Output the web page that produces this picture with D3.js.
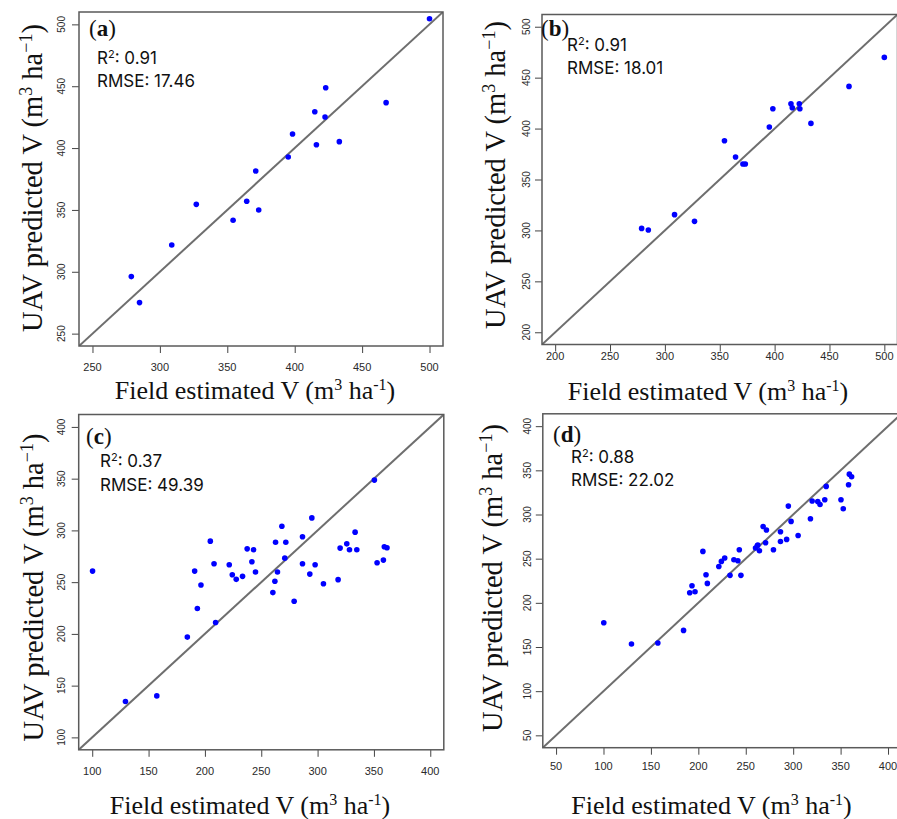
<!DOCTYPE html>
<html>
<head>
<meta charset="utf-8">
<script src="https://cdn.jsdelivr.net/npm/d3@7/dist/d3.min.js"></script>
<style>
  html, body { margin: 0; padding: 0; background: #fff; overflow: hidden; }
  svg { display: block; }
</style>
</head>
<body>
<svg id="fig" width="897" height="819"></svg>
<script>
// Field-measured stand volume (x) for the plots used in panels (a) and (b)
const fieldAB = [278.8, 284.9, 308.8, 327.0, 354.3, 364.4, 371.1, 373.3, 395.2,
                 398.4, 414.9, 416.1, 422.5, 423.0, 433.1, 467.8, 500.0];
// UAV-predicted volume, panel (a)
const predA = [296.1, 275.1, 321.7, 354.5, 341.6, 357.0, 381.5, 350.0, 392.8,
               411.4, 429.4, 402.7, 425.1, 448.8, 405.2, 436.7, 504.6];
// UAV-predicted volume, panel (b)
const predB = [302.0, 300.4, 315.5, 308.9, 388.1, 372.1, 365.2, 365.2, 401.5,
               419.5, 424.4, 420.5, 424.4, 419.5, 405.1, 441.4, 469.9];

// Field-measured stand volume (x) for panels (c) and (d)
const fieldCD = [100.3, 129.5, 157.3, 184.4, 190.9, 193.3, 196.5, 204.8, 208.1, 209.5,
                 221.6, 224.3, 227.8, 233.4, 237.5, 241.7, 243.2, 244.9, 260.3, 262.1,
                 262.7, 264.4, 268.3, 270.9, 271.8, 279.2, 286.6, 286.6, 293.1, 294.9,
                 297.8, 305.2, 318.2, 320.0, 325.9, 328.3, 333.3, 334.8, 350.4, 352.8,
                 358.4, 359.2, 361.6];
// UAV-predicted volume, panel (c)
const predC = [260.7, 134.6, 140.1, 196.9, 260.7, 224.5, 247.3, 289.6, 267.8, 211.0,
               266.8, 257.2, 252.7, 255.6, 282.2, 269.7, 281.3, 259.8, 239.9, 250.8,
               288.6, 259.8, 304.0, 273.2, 288.6, 231.5, 293.8, 267.8, 257.8, 312.1,
               266.8, 248.5, 252.4, 282.9, 287.0, 281.3, 298.3, 281.3, 348.6, 268.8,
               271.3, 284.2, 283.2];
// UAV-predicted volume, panel (d)
const predD = [177.5, 153.4, 154.5, 168.8, 211.4, 219.4, 212.6, 258.2, 231.8, 222.0,
               241.2, 246.9, 250.7, 231.1, 248.8, 247.7, 260.1, 231.1, 262.0, 264.6,
               265.4, 258.9, 286.5, 268.0, 282.4, 260.1, 280.5, 269.5, 271.8, 309.5,
               292.2, 276.3, 295.2, 315.2, 314.8, 311.4, 316.7, 331.8, 316.7, 306.5,
               333.7, 345.7, 342.7];

// Axis tick values
const ticksA = [250, 300, 350, 400, 450, 500];
const ticksB = [200, 250, 300, 350, 400, 450, 500];
const ticksC = [100, 150, 200, 250, 300, 350, 400];
const ticksD = [50, 100, 150, 200, 250, 300, 350, 400];

// Panel tags and fit statistics
const tags = ["a", "b", "c", "d"];
const r2Values = ["0.91", "0.91", "0.37", "0.88"];
const rmseValues = ["17.46", "18.01", "49.39", "22.02"];

const svg = d3.select("#fig");

// Layout of each panel on the page
const panels = [
  { x: fieldAB, y: predA, ticks: ticksA, lo: 250, hi: 500,
    box: [79, 12, 443, 346], ytlX: 65, xtlY: 371, ytitleX: 42, ytitleY: 178,
    xtitleX: 255, xtitleY: 399, tag: [89, 35.5], stat: [97, 63.5, 86.5] },
  { x: fieldAB, y: predB, ticks: ticksB, lo: 200, hi: 500,
    box: [542, 14.5, 897.5, 344.5], ytlX: 530, xtlY: 359.5, ytitleX: 505, ytitleY: 175,
    xtitleX: 708, xtitleY: 400, tag: [541, 36], stat: [567, 50.5, 74] },
  { x: fieldCD, y: predC, ticks: ticksC, lo: 100, hi: 400,
    box: [78.7, 414.5, 443.8, 749.8], ytlX: 65, xtlY: 775, ytitleX: 43, ytitleY: 587.5,
    xtitleX: 250, xtitleY: 814, tag: [86, 443.5], stat: [100, 467.3, 490.7] },
  { x: fieldCD, y: predD, ticks: ticksD, lo: 50, hi: 400,
    box: [542.8, 413.8, 901.3, 747.7], ytlX: 531, xtlY: 770, ytitleX: 502, ytitleY: 578,
    xtitleX: 711.5, xtitleY: 814, tag: [553, 441.5], stat: [571, 462.7, 486] }
];

panels.forEach((p, i) => {
  const [x0, y0, x1, y1] = p.box;
  const pad = (p.hi - p.lo) * 0.04;           // 4% axis padding on both ends
  const dom = [p.lo - pad, p.hi + pad];
  const xs = d3.scaleLinear().domain(dom).range([x0, x1]);
  const ys = d3.scaleLinear().domain(dom).range([y1, y0]);

  const g = svg.append("g");

  // clip for marks inside the plot region
  const clipId = "clip" + i;
  g.append("clipPath").attr("id", clipId)
    .append("rect").attr("x", x0).attr("y", y0)
    .attr("width", x1 - x0).attr("height", y1 - y0);

  // x axis ticks and labels
  const xAxis = d3.axisBottom(xs).tickValues(p.ticks).tickSize(7).tickSizeOuter(0);
  const xg = g.append("g").attr("transform", `translate(0,${y1})`).call(xAxis);
  xg.select(".domain").remove();
  xg.selectAll(".tick line").attr("stroke", "#444").attr("stroke-width", 1);
  xg.selectAll(".tick text").remove();
  g.selectAll(".xtl").data(p.ticks).enter().append("text")
    .attr("x", d => xs(d)).attr("y", p.xtlY)
    .attr("text-anchor", "middle")
    .attr("font-family", "Liberation Sans, Arial, sans-serif")
    .attr("font-size", 11).attr("fill", "#2a2a2a")
    .text(d => d);

  // y axis ticks and rotated labels
  const yAxis = d3.axisLeft(ys).tickValues(p.ticks).tickSize(7).tickSizeOuter(0);
  const yg = g.append("g").attr("transform", `translate(${x0},0)`).call(yAxis);
  yg.select(".domain").remove();
  yg.selectAll(".tick line").attr("stroke", "#444").attr("stroke-width", 1);
  yg.selectAll(".tick text").remove();
  g.selectAll(".ytl").data(p.ticks).enter().append("text")
    .attr("transform", d => `translate(${p.ytlX},${ys(d)}) rotate(-90)`)
    .attr("text-anchor", "middle")
    .attr("font-family", "Liberation Sans, Arial, sans-serif")
    .attr("font-size", 10).attr("fill", "#2a2a2a")
    .text(d => d);

  // 1:1 reference line
  g.append("line")
    .attr("clip-path", `url(#${clipId})`)
    .attr("x1", xs(dom[0])).attr("y1", ys(dom[0]))
    .attr("x2", xs(dom[1])).attr("y2", ys(dom[1]))
    .attr("stroke", "#6e6e6e").attr("stroke-width", 2);

  // points
  const pts = p.x.map((v, k) => [v, p.y[k]]);
  g.append("g").attr("clip-path", `url(#${clipId})`)
    .selectAll("circle").data(pts).enter().append("circle")
    .attr("cx", d => xs(d[0])).attr("cy", d => ys(d[1]))
    .attr("r", 2.8).attr("fill", "#0000ff");

  // plot frame
  g.append("rect")
    .attr("x", x0).attr("y", y0).attr("width", x1 - x0).attr("height", y1 - y0)
    .attr("fill", "none").attr("stroke", "#5a5a5a").attr("stroke-width", 1.5);

  // panel tag, e.g. (a)
  const tag = g.append("text")
    .attr("x", p.tag[0]).attr("y", p.tag[1])
    .attr("font-family", "Liberation Serif, Times New Roman, serif")
    .attr("font-size", 23).attr("fill", "#111");
  tag.append("tspan").text("(");
  tag.append("tspan").attr("font-weight", "bold").text(tags[i]);
  tag.append("tspan").text(")");

  // fit statistics
  const r2 = g.append("text")
    .attr("x", p.stat[0]).attr("y", p.stat[1])
    .attr("font-family", "Inter, Roboto, sans-serif")
    .attr("font-size", 17).attr("fill", "#111");
  r2.append("tspan").text("R");
  r2.append("tspan").attr("dy", -6).attr("font-size", 11).text("2");
  r2.append("tspan").attr("dy", 6).text(": " + r2Values[i]);
  g.append("text")
    .attr("x", p.stat[0]).attr("y", p.stat[2])
    .attr("font-family", "Inter, Roboto, sans-serif")
    .attr("font-size", 17).attr("fill", "#111")
    .text("RMSE: " + rmseValues[i]);

  // x axis title
  const xt = g.append("text")
    .attr("x", p.xtitleX).attr("y", p.xtitleY)
    .attr("text-anchor", "middle")
    .attr("font-family", "Liberation Serif, Times New Roman, serif")
    .attr("font-size", 26).attr("fill", "#111");
  xt.append("tspan").text("Field estimated V (m");
  xt.append("tspan").attr("dy", -9).attr("font-size", 16).text("3");
  xt.append("tspan").attr("dy", 9).text(" ha");
  xt.append("tspan").attr("dy", -9).attr("font-size", 16).text("-1");
  xt.append("tspan").attr("dy", 9).text(")");

  // y axis title
  const yt = g.append("text")
    .attr("transform", `translate(${p.ytitleX},${p.ytitleY}) rotate(-90)`)
    .attr("text-anchor", "middle")
    .attr("font-family", "Liberation Serif, Times New Roman, serif")
    .attr("font-size", 28.5).attr("fill", "#111");
  yt.append("tspan").text("UAV predicted V (m");
  yt.append("tspan").attr("dy", -10).attr("font-size", 18).text("3");
  yt.append("tspan").attr("dy", 10).text(" ha");
  yt.append("tspan").attr("dy", -10).attr("font-size", 18).text("\u22121");
  yt.append("tspan").attr("dy", 10).text(")");
});
</script>
</body>
</html>
